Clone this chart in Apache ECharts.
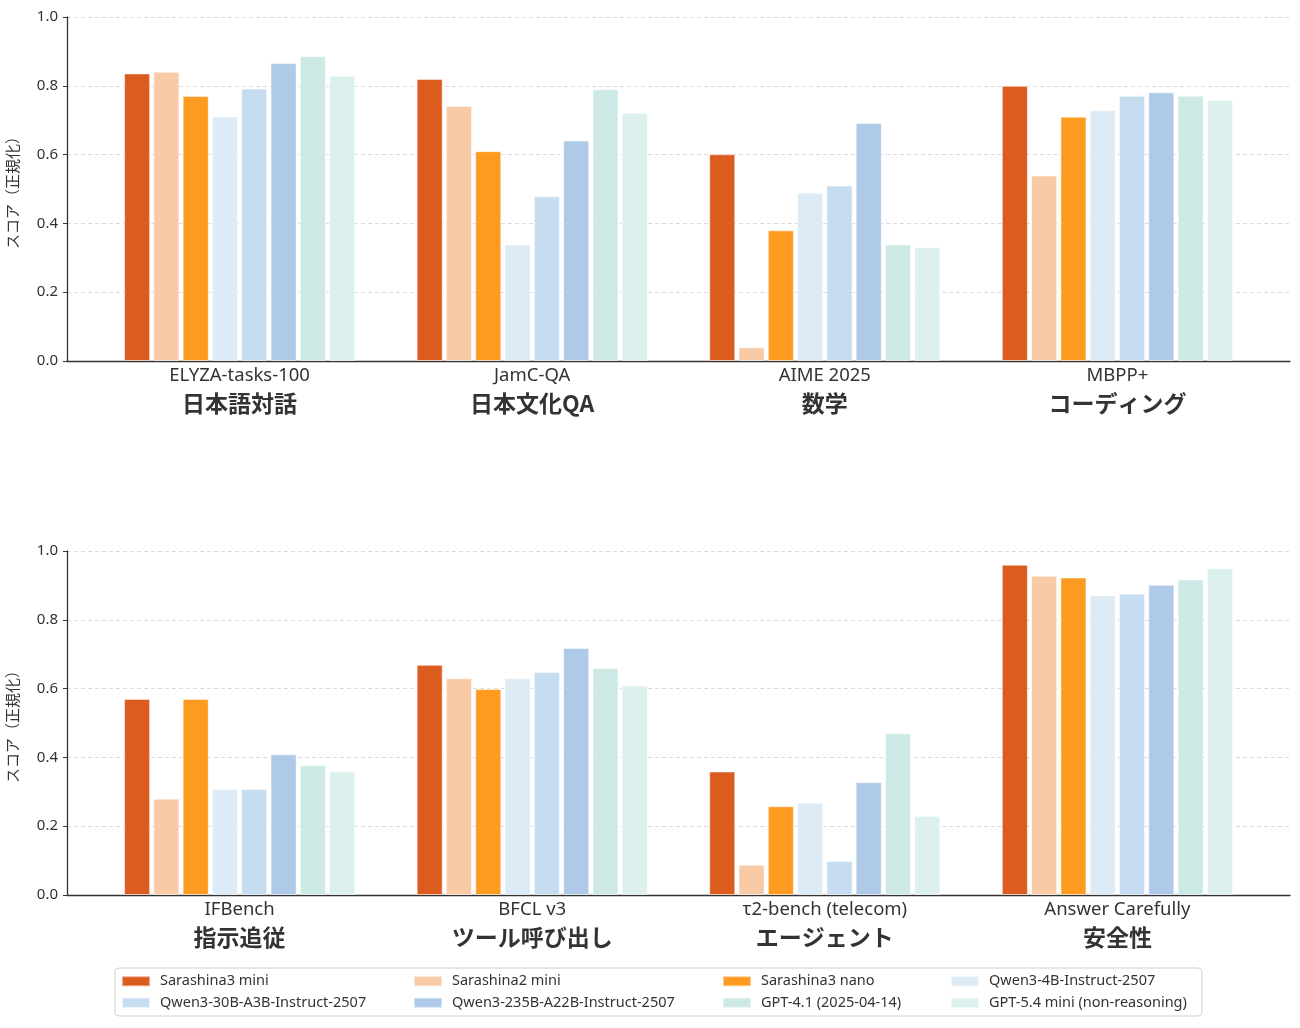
<!DOCTYPE html>
<html>
<head>
<meta charset="utf-8">
<script src="https://cdn.jsdelivr.net/npm/echarts@6/dist/echarts.min.js"></script>
<style>
  html, body { margin: 0; padding: 0; background: #fff; }
  #main { width: 1300px; height: 1028px; }
</style>
</head>
<body>
<div id="main"></div>
<script>
// ベンチマーク（上段・下段）
var topCategories = ['ELYZA-tasks-100', 'JamC-QA', 'AIME 2025', 'MBPP+'];
var topGroups = ['日本語対話', '日本文化QA', '数学', 'コーディング'];
var bottomCategories = ['IFBench', 'BFCL v3', 'τ2-bench (telecom)', 'Answer Carefully'];
var bottomGroups = ['指示追従', 'ツール呼び出し', 'エージェント', '安全性'];

var models = ['Sarashina3 mini', 'Sarashina2 mini', 'Sarashina3 nano', 'Qwen3-4B-Instruct-2507',
  'Qwen3-30B-A3B-Instruct-2507', 'Qwen3-235B-A22B-Instruct-2507', 'GPT-4.1 (2025-04-14)', 'GPT-5.4 mini (non-reasoning)'];
var colors = ['#dc5b1f', '#f8caa5', '#fd9a20', '#dcebf6', '#c6dcf0', '#aecae8', '#cce9e6', '#dcf0ee'];

// スコア: 上段4つ + 下段4つ
var sarashina3Mini = [0.836, 0.820, 0.601, 0.800, 0.570, 0.669, 0.359, 0.960];
var sarashina2Mini = [0.841, 0.741, 0.040, 0.539, 0.280, 0.630, 0.088, 0.928];
var sarashina3Nano = [0.770, 0.610, 0.380, 0.710, 0.570, 0.599, 0.258, 0.923];
var qwen4b = [0.711, 0.339, 0.489, 0.729, 0.308, 0.630, 0.268, 0.871];
var qwen30b = [0.792, 0.479, 0.510, 0.771, 0.308, 0.648, 0.099, 0.876];
var qwen235b = [0.866, 0.641, 0.692, 0.781, 0.409, 0.718, 0.328, 0.902];
var gpt41 = [0.886, 0.790, 0.339, 0.771, 0.377, 0.660, 0.470, 0.917];
var gpt54mini = [0.829, 0.722, 0.331, 0.759, 0.359, 0.609, 0.230, 0.950];
var scores = [sarashina3Mini, sarashina2Mini, sarashina3Nano, qwen4b, qwen30b, qwen235b, gpt41, gpt54mini];

var yTicks = [0, 0.2, 0.4, 0.6, 0.8, 1.0];

window.onload = function () {
  var myChart = echarts.init(document.getElementById('main'));
  var font = '"Noto Sans", "Noto Sans CJK JP", sans-serif';
  var jpFont = '"Noto Sans CJK JP", sans-serif';
  var ink = '#333';

  var plotH = 344;
  var tops = [17, 551];
  var frameLeft = 67, frameW = 1223;
  var band = frameW / 4.18;           // 1カテゴリ分の幅
  var barsLeft = frameLeft + 0.09 * band;

  var grids = [], xAxes = [], yAxes = [];
  tops.forEach(function (t, k) {
    grids.push({ left: frameLeft, top: t, width: frameW, height: plotH, outerBoundsMode: 'none' });
    grids.push({ left: barsLeft, top: t, width: band * 4, height: plotH, outerBoundsMode: 'none' });

    xAxes.push({
      type: 'value', gridIndex: 2 * k, min: 0, max: 1,
      axisLine: { show: true, lineStyle: { color: ink, width: 1.3 } },
      axisTick: { show: false }, axisLabel: { show: false }, splitLine: { show: false }
    });
    xAxes.push({
      type: 'category', gridIndex: 2 * k + 1,
      data: k === 0 ? topCategories : bottomCategories,
      axisLine: { show: false }, axisTick: { show: false },
      axisLabel: {
        margin: 3,
        formatter: function (v, i) {
          var g = (k === 0 ? topGroups : bottomGroups)[i];
          return '{a|' + v + '}\n{b|' + g + '}';
        },
        rich: {
          a: { fontSize: 18.5, lineHeight: 23, color: ink, fontFamily: font },
          b: { fontSize: 23, lineHeight: 33, fontWeight: 'bold', color: ink, fontFamily: jpFont }
        }
      }
    });

    yAxes.push({
      type: 'value', gridIndex: 2 * k, min: yTicks[0], max: yTicks[yTicks.length - 1], interval: 0.2,
      name: 'スコア（正規化）', nameLocation: 'middle', nameGap: 47,
      nameTextStyle: { fontSize: 15, color: ink, fontFamily: jpFont },
      axisLine: { show: true, lineStyle: { color: ink, width: 1.3 } },
      axisTick: { show: true, length: 4, lineStyle: { color: ink } },
      axisLabel: { fontSize: 15, color: ink, margin: 9, fontFamily: font,
        formatter: function (v) { return v.toFixed(1); } },
      splitLine: { show: true, lineStyle: { color: '#dcdcdc', type: [4, 3], width: 1 } }
    });
    yAxes.push({
      type: 'value', gridIndex: 2 * k + 1, min: 0, max: 1, show: false,
      splitLine: { show: false }
    });
  });

  var series = [];
  models.forEach(function (m, i) {
    [0, 1].forEach(function (k) {
      series.push({
        name: m, type: 'bar',
        xAxisIndex: 2 * k + 1, yAxisIndex: 2 * k + 1,
        data: k === 0 ? scores[i].slice(0, 4) : scores[i].slice(4),
        barWidth: '8.9%', barGap: '12.5%',
        itemStyle: { color: colors[i], borderColor: 'rgba(255,255,255,0.5)', borderWidth: 1 },
        z: 3
      });
    });
  });

  // 凡例: 4列 x 2行
  var legendCols = [[0, 4], [1, 5], [2, 6], [3, 7]];
  var legendX = [121, 413, 722, 950];
  var legends = legendCols.map(function (col, c) {
    return {
      orient: 'vertical', left: legendX[c], top: 974, padding: 0, itemGap: 7,
      itemWidth: 28, itemHeight: 10, icon: 'rect', selectedMode: false,
      data: col.map(function (i) { return models[i]; }),
      textStyle: { fontSize: 14.5, color: ink, fontFamily: font, lineHeight: 14, padding: [0, 0, 0, 5] }
    };
  });

  var option = {
    animation: false,
    backgroundColor: '#fff',
    textStyle: { fontFamily: font },
    color: colors,
    graphic: [{
      type: 'rect', z: -1,
      shape: { x: 115, y: 968, width: 1087, height: 48, r: 4 },
      style: { fill: '#fff', stroke: '#d0d0d0', lineWidth: 1 }
    }],
    legend: legends,
    grid: grids,
    xAxis: xAxes,
    yAxis: yAxes,
    series: series
  };

  myChart.setOption(option);
};
</script>
</body>
</html>
